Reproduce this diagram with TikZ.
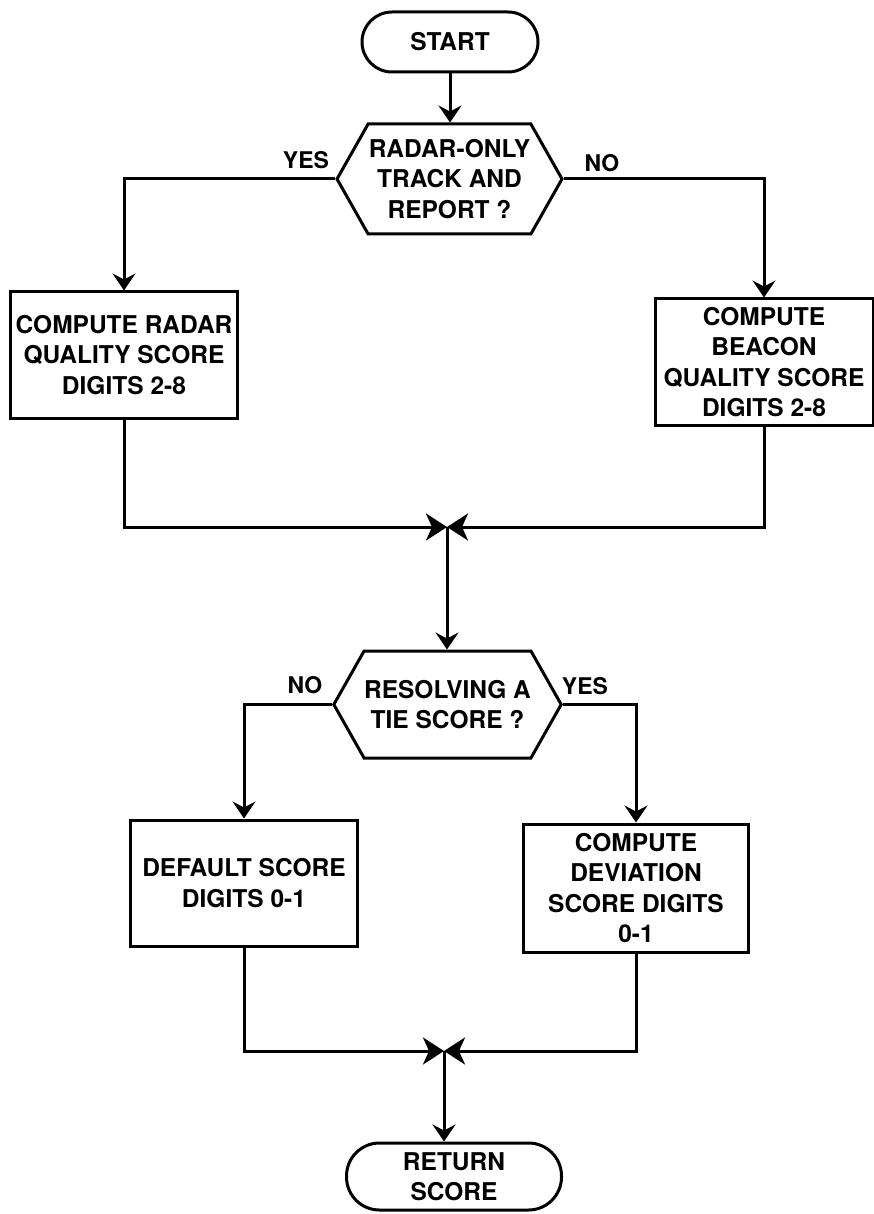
\documentclass[tikz,border=0pt]{standalone}
\usepackage{fontspec}
\setmainfont{TeX Gyre Heros}
\usetikzlibrary{arrows.meta,shapes.symbols}
\begin{document}
\begin{tikzpicture}[x=1pt,y=-1pt,
  every node/.style={font=\bfseries\fontsize{24.5}{30.5}\selectfont, align=center},
  ln/.style={line width=3pt},
  arr/.style={ln,-{Stealth[length=17pt,width=23pt,inset=6pt]}},
  mrg/.style={ln,-{Stealth[length=21pt,width=27pt,inset=6pt]}},
  term/.style={draw,line width=3pt,inner sep=0pt},
  proc/.style={draw,line width=3pt,inner sep=0pt},
  dec/.style={draw,line width=3pt,shape=signal,signal to=west and east,
              signal pointer angle=121,inner sep=0pt},
  lbl/.style={inner sep=0pt,font=\bfseries\fontsize{23}{28}\selectfont}]
\useasboundingbox (0,0) rectangle (874,1214);

\node[term,rounded corners=30pt,minimum width=176pt,minimum height=60pt] (start) at (450,42) {START};
\node[dec,minimum width=225pt,minimum height=110pt] (h1) at (449.5,179) {RADAR-ONLY\\TRACK AND\\REPORT ?};
\node[proc,minimum width=227pt,minimum height=126pt] (radar) at (124,355) {COMPUTE RADAR\\QUALITY SCORE\\DIGITS 2-8};
\node[proc,minimum width=218pt,minimum height=126pt] (beacon) at (764,362) {COMPUTE\\BEACON\\QUALITY SCORE\\DIGITS 2-8};
\coordinate (m1) at (447,527);
\node[dec,minimum width=225pt,minimum height=107pt] (h2) at (447.5,704.5) {RESOLVING A\\TIE SCORE ?};
\node[proc,minimum width=227pt,minimum height=126pt] (default) at (244,883) {DEFAULT SCORE\\DIGITS 0-1};
\node[proc,minimum width=225pt,minimum height=128pt] (dev) at (636,888) {COMPUTE\\DEVIATION\\SCORE DIGITS\\0-1};
\coordinate (m2) at (444,1051);
\node[term,rounded corners=33pt,minimum width=215pt,minimum height=67pt] (ret) at (454,1176.5) {RETURN\\SCORE};

\node[lbl] (yes1) at (306,160) {YES};
\node[lbl] (no1) at (602,163) {NO};
\node[lbl] (no2) at (305,685) {NO};
\node[lbl] (yes2) at (585,686) {YES};

\draw[arr] (start.south) -- (start.south |- h1.north);
\draw[arr] (h1.west) -| (radar.north);
\draw[arr] (h1.east) -| (beacon.north);
\draw[mrg] (radar.south) |- (m1);
\draw[mrg] (beacon.south) |- (m1);
\draw[arr] (m1) -- (m1 |- h2.north);
\draw[arr] (h2.west) -| (default.north);
\draw[arr] (h2.east) -| (dev.north);
\draw[mrg] (default.south) |- (m2);
\draw[mrg] (dev.south) |- (m2);
\draw[arr] (m2) -- (m2 |- ret.north);
\end{tikzpicture}
\end{document}
